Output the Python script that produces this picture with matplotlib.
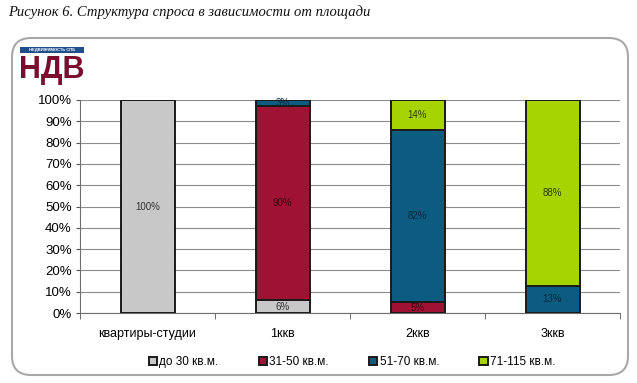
import numpy as np
import matplotlib
matplotlib.use('Agg')
import matplotlib.pyplot as plt
from matplotlib.patches import FancyBboxPatch, Rectangle

plt.rcParams['font.family'] = ['Liberation Sans', 'DejaVu Sans']

categories = ['квартиры-студии', '1ккв', '2ккв', '3ккв']
series_names = ['до 30 кв.м.', '31-50 кв.м.', '51-70 кв.м.', '71-115 кв.м.']
# подписи в процентах (как на исходной диаграмме)
s_30 = [100, 6, 0, 0]
s_50 = [0, 90, 5, 0]
s_70 = [0, 3, 82, 13]
s_115 = [0, 0, 14, 88]
colors = ['#C8C8C8', '#9E1234', '#0B5C80', '#A6D400']
text_colors = ['#333333', '#3a0010', '#062a3c', '#2f3b00']

data = np.array([s_30, s_50, s_70, s_115], dtype=float)
shares = data / data.sum(axis=0) * 100  # нормированная диаграмма 100%

fig = plt.figure(figsize=(6.37, 3.83), dpi=100)

# заголовок рисунка
fig.text(8 / 637, 1 - 12 / 383, 'Рисунок 6. Структура спроса в зависимости от площади',
         fontsize=10.5, style='italic', family=['Liberation Serif', 'DejaVu Serif'],
         va='center', ha='left', color='#111111')

# рамка диаграммы (под осями)
frame = FancyBboxPatch((12 / 637, 1 - 375 / 383), 616 / 637, 337 / 383,
                       boxstyle='round,pad=0,rounding_size=0.03',
                       transform=fig.transFigure, facecolor='white',
                       edgecolor='#A8A8A8', linewidth=1.5, mutation_aspect=637 / 383,
                       zorder=-2)
fig.patches.append(frame)

# логотип
fig.patches.append(Rectangle((20 / 637, 1 - 53 / 383), 64 / 637, 6 / 383,
                             transform=fig.transFigure, facecolor='#1F4E8C',
                             edgecolor='none', zorder=-1))
fig.text(52 / 637, 1 - 50 / 383, 'НЕДВИЖИМОСТЬ СПБ', fontsize=3, color='white',
         fontweight='bold', ha='center', va='center')
fig.text(52 / 637, 1 - 70 / 383, 'НДВ', fontsize=22, color='#7A0E2E',
         fontweight='heavy', ha='center', va='center')

ax = fig.add_axes([80 / 637, 1 - 313 / 383, 540 / 637, 213 / 383])
ax.patch.set_alpha(0)
x = np.arange(len(categories))
width = 0.4
bottom = np.zeros(len(categories))
for i, name in enumerate(series_names):
    ax.bar(x, shares[i], width, bottom=bottom, color=colors[i], edgecolor='#1a1a1a',
           linewidth=1.4, label=name, zorder=3)
    for j in range(len(categories)):
        if data[i, j] > 0:
            ax.text(x[j], bottom[j] + shares[i, j] / 2, f'{int(data[i, j])}%',
                    ha='center', va='center', fontsize=7, color=text_colors[i], zorder=4)
    bottom += shares[i]

ax.set_xlim(-0.5, 3.5)
ax.set_ylim(0, 100)
ax.set_yticks(np.arange(0, 101, 10))
ax.set_yticklabels([f'{v}%' for v in range(0, 101, 10)], fontsize=9.5)
ax.set_xticks(x)
ax.set_xticklabels(categories, fontsize=9)
ax.set_xticks(np.arange(-0.5, 3.6, 1), minor=True)
ax.tick_params(axis='x', which='major', length=0, pad=11)
ax.tick_params(axis='x', which='minor', length=4, color='#555555')
ax.tick_params(axis='y', length=3, color='#555555', pad=3)
ax.grid(axis='y', color='#8C8C8C', linewidth=0.8, zorder=0)
for side in ['top', 'right']:
    ax.spines[side].set_visible(False)
for side in ['left', 'bottom']:
    ax.spines[side].set_color('#6E6E6E')

ax.legend(loc='center', bbox_to_anchor=(352 / 637, 1 - 362 / 383), bbox_transform=fig.transFigure,
          ncol=4, frameon=False, fontsize=8.5, handlelength=0.7, handleheight=0.7,
          handletextpad=0.2, columnspacing=3.4)

plt.savefig('out.png', dpi=100)
plt.close()
